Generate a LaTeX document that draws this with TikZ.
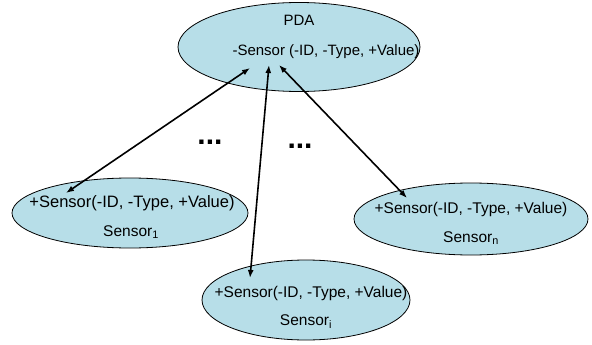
\documentclass[tikz,border=0pt]{standalone}
\usepackage{fontspec}
\setmainfont{Liberation Sans}
\usetikzlibrary{shapes.geometric,arrows.meta}
\definecolor{aqua}{HTML}{B7DEE8}
\begin{document}
\begin{tikzpicture}[x=1pt,y=-1pt,
  blob/.style={draw=black,line width=0.8pt,fill=aqua,ellipse,inner sep=0pt},
  txt/.style={inner sep=0pt,font=\fontsize{15.5}{18}\selectfont},
  link/.style={line width=1.6pt,{Latex[length=8pt,width=6pt]}-{Latex[length=8pt,width=6pt]}},
  dots/.style={inner sep=0pt,anchor=base,font=\fontsize{30}{34}\selectfont\bfseries}]
\useasboundingbox (0,0) rectangle (592,345);
% ellipses
\node[blob,minimum width=242pt,minimum height=89pt] (pda) at (299,47) {};
\node[blob,minimum width=236pt,minimum height=70pt] (s1) at (130,213) {};
\node[blob,minimum width=234pt,minimum height=72pt] (sn) at (471,219) {};
\node[blob,minimum width=208pt,minimum height=80pt] (si) at (306,300) {};
% labels
\node[txt,font=\fontsize{15}{18}\selectfont] (pdaname) at (299,20) {PDA};
\node[txt,font=\fontsize{15}{18}\selectfont] (pdaattr) at (326,52) {-Sensor (-ID, -Type, +Value)};
\node[txt,font=\fontsize{16.5}{19}\selectfont] (s1attr) at (132,203) {+Sensor(-ID, -Type, +Value)};
\node[txt] (s1name) at (131,232) {Sensor\textsubscript{1}};
\node[txt] (snattr) at (471,209) {+Sensor(-ID, -Type, +Value)};
\node[txt] (snname) at (471,238) {Sensor\textsubscript{n}};
\node[txt] (siattr) at (311,293) {+Sensor(-ID, -Type, +Value)};
\node[txt] (siname) at (306,322) {Sensor\textsubscript{i}};
% ellipsis marks
\node[dots] (d1) at (210,144) {...};
\node[dots] (d2) at (300,148) {...};
% connector end points
\coordinate (pa) at (250,68);
\coordinate (pb) at (269,65);
\coordinate (pc) at (279,65);
\coordinate (a1) at (66,193);
\coordinate (ai) at (250,278);
\coordinate (an) at (407,198);
% connectors
\draw[link] (a1) -- (pa);
\draw[link] (ai) -- (pb);
\draw[link] (pc) -- (an);
\end{tikzpicture}
\end{document}
